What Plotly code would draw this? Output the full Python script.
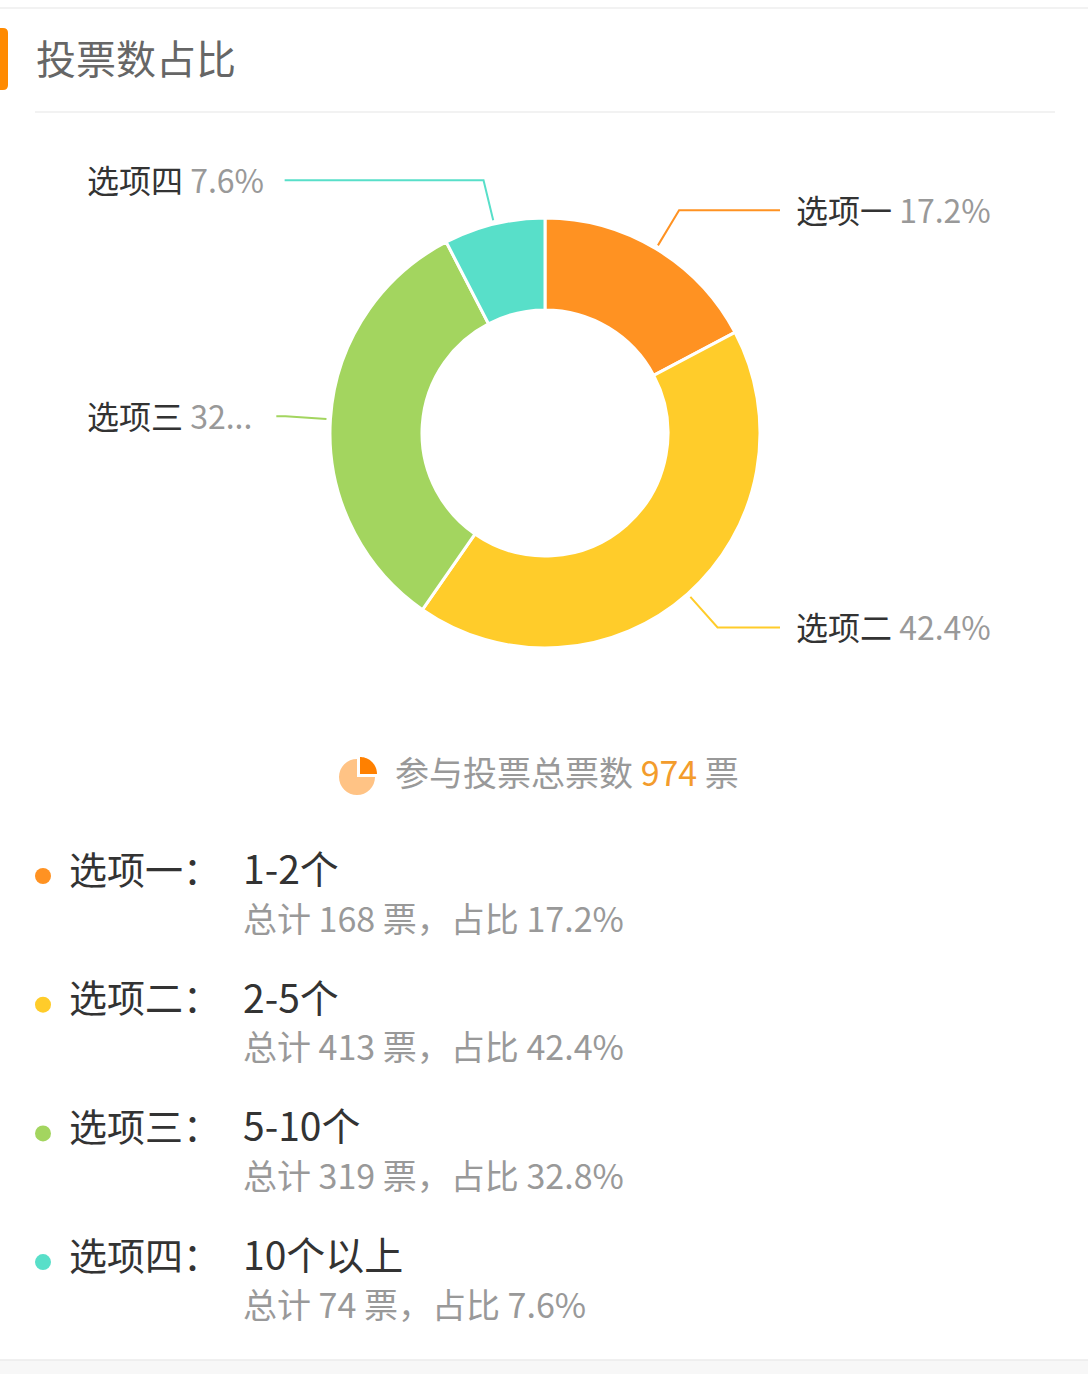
import math
import plotly.graph_objects as go

# ---------------- data ----------------
option_names = ["选项一", "选项二", "选项三", "选项四"]
option_ranges = ["1-2个", "2-5个", "5-10个", "10个以上"]
option_votes = [168, 413, 319, 74]
option_pcts = ["17.2%", "42.4%", "32.8%", "7.6%"]
pie_label_pcts = ["17.2%", "42.4%", "32...", "7.6%"]
total_votes = 974
title_text = "投票数占比"

# ---------------- style ----------------
W, H = 1088, 1374
FONT = "Noto Sans CJK SC"
colors = ["#FF9222", "#FFCC2A", "#A3D55F", "#58DFC9"]
CX, CY = 545, 433
R_OUT, R_IN = 215, 123
PAD = 3  # annotation inner padding compensation

fig = go.Figure()

# donut
fig.add_trace(go.Pie(
    labels=option_names,
    values=option_votes,
    sort=False,
    direction="clockwise",
    rotation=0,
    hole=R_IN / R_OUT,
    marker=dict(colors=colors, line=dict(color="white", width=3)),
    textinfo="none",
    hoverinfo="skip",
    showlegend=False,
    domain=dict(x=[(CX - R_OUT) / W, (CX + R_OUT) / W],
                y=[1 - (CY + R_OUT) / H, 1 - (CY - R_OUT) / H]),
))

shapes = []
annotations = []


def text_width(s, fs):
    w = 0
    for ch in s:
        if ord(ch) > 0x2E80:
            w += fs
        elif ch in ".":
            w += 0.28 * fs
        elif ch == "%":
            w += 0.82 * fs
        elif ch == " ":
            w += 0.3 * fs
        else:
            w += 0.56 * fs
    return w


# outside labels with leader lines
LABEL_FS = 32
RIGHT_LINE_END = 780
RIGHT_TEXT_X = 797
LEFT_TEXT_X = 88
total = sum(option_votes)
cum = 0
for i, v in enumerate(option_votes):
    mid = (cum + v / 2) / total
    cum += v
    th = 2 * math.pi * mid
    p1 = (CX + (R_OUT + 4) * math.sin(th), CY - (R_OUT + 4) * math.cos(th))
    p2 = (CX + (R_OUT + 45) * math.sin(th), CY - (R_OUT + 45) * math.cos(th))
    label = f"{option_names[i]} {pie_label_pcts[i]}"
    if math.sin(th) >= 0:
        p3 = (RIGHT_LINE_END, p2[1])
        tx = RIGHT_TEXT_X
    else:
        p3 = (LEFT_TEXT_X + text_width(label, LABEL_FS) + 20, p2[1])
        tx = LEFT_TEXT_X
    path = f"M{p1[0]},{p1[1]} L{p2[0]},{p2[1]} L{p3[0]},{p3[1]}"
    shapes.append(dict(type="path", path=path, xref="x", yref="y",
                       line=dict(color=colors[i], width=2)))
    annotations.append(dict(
        x=tx - PAD, y=p2[1] - 1, xref="x", yref="y", xanchor="left", yanchor="middle",
        text=f"{option_names[i]} <span style='color:#999999'>{pie_label_pcts[i]}</span>",
        showarrow=False, font=dict(family=FONT, size=LABEL_FS, color="#333333"),
    ))

# header
shapes.append(dict(type="line", x0=0, x1=W, y0=8, y1=8, xref="x", yref="y",
                   line=dict(color="#EEEEEE", width=1.5)))
shapes.append(dict(type="path", xref="x", yref="y",
                   path="M0,28 L3,28 Q8,28 8,33 L8,85 Q8,90 3,90 L0,90 Z",
                   fillcolor="#FF8A00", line=dict(width=0)))
shapes.append(dict(type="line", x0=35, x1=1055, y0=112, y1=112, xref="x", yref="y",
                   line=dict(color="#EEEEEE", width=1.5)))
annotations.append(dict(x=37 - PAD, y=57, xref="x", yref="y", xanchor="left",
                        yanchor="middle", text=title_text, showarrow=False,
                        font=dict(family=FONT, size=40, color="#666666")))

# footer
shapes.append(dict(type="rect", x0=0, x1=W, y0=1360, y1=H, xref="x", yref="y",
                   fillcolor="#F7F7F7", line=dict(width=0), layer="below"))
shapes.append(dict(type="line", x0=0, x1=W, y0=1360, y1=1360, xref="x", yref="y",
                   line=dict(color="#EBEBEB", width=1.5)))


# total icon
def arc_path(cx, cy, r, a0, a1, n=24):
    pts = [(cx, cy)]
    for k in range(n + 1):
        a = a0 + (a1 - a0) * k / n
        pts.append((cx + r * math.sin(a), cy - r * math.cos(a)))
    return "M" + " L".join(f"{x:.2f},{y:.2f}" for x, y in pts) + " Z"


shapes.append(dict(type="path", xref="x", yref="y",
                   path=arc_path(357, 777, 18, math.pi / 2, 2 * math.pi),
                   fillcolor="#FFC385", line=dict(width=0)))
shapes.append(dict(type="path", xref="x", yref="y",
                   path=arc_path(360, 774, 17, 0, math.pi / 2),
                   fillcolor="#FF8000", line=dict(width=0)))
annotations.append(dict(
    x=396 - PAD, y=771, xref="x", yref="y", xanchor="left", yanchor="middle",
    text=f"参与投票总票数 <span style='color:#F39C2C'>{total_votes}</span> 票",
    showarrow=False, font=dict(family=FONT, size=34, color="#999999")))

# list
ROW0, ROW_STEP = 867, 128.7
for i in range(len(option_names)):
    y = ROW0 + i * ROW_STEP
    shapes.append(dict(type="circle", xref="x", yref="y",
                       x0=43 - 8, x1=43 + 8, y0=y + 9 - 8, y1=y + 9 + 8,
                       fillcolor=colors[i], line=dict(width=0)))
    annotations.append(dict(x=70 - PAD, y=y, xref="x", yref="y", xanchor="left",
                            yanchor="middle", text=f"{option_names[i]}：", showarrow=False,
                            font=dict(family=FONT, size=38, color="#333333")))
    annotations.append(dict(x=244 - PAD, y=y, xref="x", yref="y", xanchor="left",
                            yanchor="middle", text=option_ranges[i], showarrow=False,
                            font=dict(family=FONT, size=39, color="#333333")))
    annotations.append(dict(x=244 - PAD, y=y + 50, xref="x", yref="y", xanchor="left",
                            yanchor="middle",
                            text=f"总计 {option_votes[i]} 票，占比 {option_pcts[i]}",
                            showarrow=False,
                            font=dict(family=FONT, size=34, color="#999999")))

fig.update_layout(
    width=W, height=H,
    margin=dict(l=0, r=0, t=0, b=0),
    paper_bgcolor="white", plot_bgcolor="rgba(0,0,0,0)",
    xaxis=dict(range=[0, W], visible=False, fixedrange=True),
    yaxis=dict(range=[H, 0], visible=False, fixedrange=True),
    shapes=shapes, annotations=annotations,
    font=dict(family=FONT),
)

fig.write_html("out.html", config={"displayModeBar": False},
               post_script="document.body.style.margin='0';")
